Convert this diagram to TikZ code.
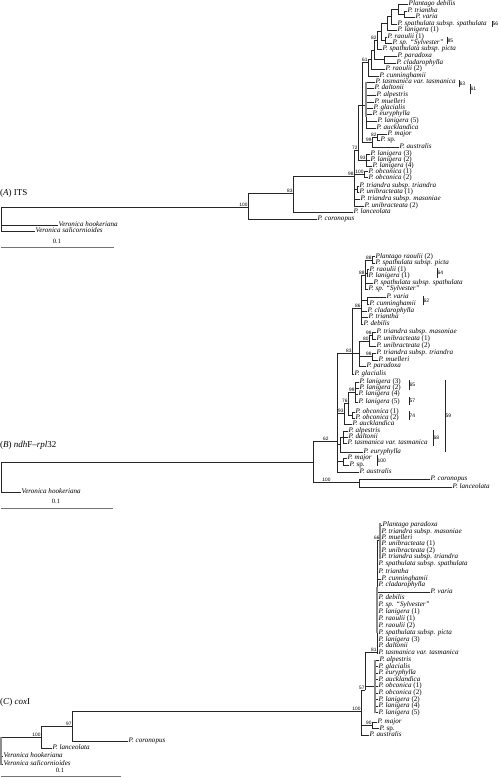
\documentclass[tikz,border=0pt]{standalone}
\usepackage{fontspec}
\setmainfont{Liberation Serif}
\setsansfont{Liberation Sans}

% leaf: name, parent x, y, tip x, text
\newcommand{\taxon}[5]{\node[tx] (#1) at (#4,#3) {#5};\draw[br] (#2,#3) -- (#1.west);}
% inner node: name, parent x, x, y, top, bottom
\newcommand{\clade}[6]{\coordinate (#1) at (#3,#4);\draw[br] (#2,#4) -- (#1);\draw[br] (#3,#5) -- (#3,#6);}
\newcommand{\boot}[3][]{\node[bs, anchor=south east, #1] (l#2) at (#2) {#3};}
\newcommand{\support}[5]{\draw[bar] (#2,#3) -- (#2,#4);\node[bs, anchor=west, font=\sffamily\fontsize{5}{5}\selectfont] (#1) at (#2,{(#3+#4)/2}) {#5};}

\begin{document}
\begin{tikzpicture}[
    x=1pt, y=-1pt,
    br/.style={draw=black!85, line width=0.7pt},
    comb/.style={draw=black!45, line width=1.8pt},
    bar/.style={draw=black!85, line width=0.9pt},
    scalebar/.style={draw=black!55, line width=0.9pt},
    tx/.style={anchor=west, inner sep=0.5pt, text height=4.6pt, text depth=1.1pt, font=\fontsize{7.1}{7.1}\selectfont\itshape},
    bs/.style={inner sep=0.3pt, font=\sffamily\fontsize{4.8}{4.8}\selectfont},
    panel/.style={anchor=west, inner sep=0pt, font=\fontsize{9}{9}\selectfont},
    sbl/.style={inner sep=0pt, font=\fontsize{6.5}{6.5}\selectfont}
]
\useasboundingbox (0,0) rectangle (500,778);

% (A) ITS
\node[panel] (labA) at (0,193) {(\textit{A}) ITS};
\draw[br] (1,207) -- (1,231);
\clade{a100}{1}{248}{207}{193}{219}
\clade{a83}{248}{293}{193}{176}{212}
\clade{a98}{293}{354}{176}{150}{206}
\clade{a72}{354}{358}{150}{105}{160}
\clade{aOb}{354}{364}{174.5}{171.5}{177.5}
\clade{aTT}{354}{357}{189}{186}{192}
\clade{aC}{358}{362}{105}{62}{142}
\clade{aLg}{358}{366}{160}{154}{166}
\clade{ak}{362}{368}{62}{59.5}{76}
\clade{aj}{368}{371}{59.5}{50}{69}
\clade{ai}{371}{374}{50}{40}{59.5}
\clade{ag}{374}{377}{40}{31.5}{49}
\clade{ae}{377}{381}{31.5}{23}{40}
\clade{ad}{381}{387}{23}{16.5}{30}
\clade{aa}{387}{391}{16.5}{9}{24}
\clade{ab}{391}{398}{9}{4}{14}
\clade{ac}{398}{404}{14}{11}{17}
\clade{af}{381}{385}{40}{37}{43}
\clade{ah}{374}{384}{59.5}{56}{63}
\clade{aComb}{362}{366}{105}{82}{128}
\clade{an}{362}{372}{142}{137}{147}
\clade{am}{372}{377}{137}{134}{140}
\taxon{aDeb}{398}{4}{408}{Plantago debilis}
\taxon{aTri}{404}{11}{407}{P. triantha}
\taxon{aVar}{404}{17}{415}{P. varia}
\taxon{aSpa}{391}{24}{397}{P. spathulata subsp. spathulata}
\taxon{aLa1}{387}{30}{397}{P. lanigera \textup{(1)}}
\taxon{aRa1}{385}{37}{387}{P. raoulii \textup{(1)}}
\taxon{aSyl}{385}{43}{392}{P. sp. ``Sylvester''}
\taxon{aPic}{377}{49}{382}{P. spathulata subsp. picta}
\taxon{aPar}{384}{56}{397}{P. paradoxa}
\taxon{aCla}{384}{63}{396}{P. cladarophylla}
\taxon{aRa2}{371}{69}{385}{P. raoulii \textup{(2)}}
\taxon{aCun}{368}{76}{379}{P. cunninghamii}
\taxon{aTas}{366}{82}{375}{P. tasmanica var. tasmanica}
\taxon{aDal}{366}{88}{374}{P. daltonii}
\taxon{aAlp}{366}{95}{376}{P. alpestris}
\taxon{aMue}{366}{102}{374}{P. muelleri}
\taxon{aGla}{366}{108}{373}{P. glacialis}
\taxon{aEur}{366}{114}{372}{P. euryphylla}
\taxon{aLa5}{366}{121}{377}{P. lanigera \textup{(5)}}
\taxon{aAuc}{366}{128}{376}{P. aucklandica}
\taxon{aMaj}{377}{134}{387}{P. major}
\taxon{aSp}{377}{140}{380}{P. \textup{sp.}}
\taxon{aAus}{372}{147}{399}{P. australis}
\taxon{aLa3}{366}{154}{370}{P. lanigera \textup{(3)}}
\taxon{aLa2}{366}{160}{370}{P. lanigera \textup{(2)}}
\taxon{aLa4}{366}{166}{372}{P. lanigera \textup{(4)}}
\taxon{aOb1}{364}{171.5}{368}{P. obconica \textup{(1)}}
\taxon{aOb2}{364}{177.5}{368}{P. obconica \textup{(2)}}
\taxon{aTrt}{357}{186}{359}{P. triandra subsp. triandra}
\taxon{aUn1}{357}{192}{359}{P. unibracteata \textup{(1)}}
\taxon{aMas}{354}{199}{360}{P. triandra subsp. masoniae}
\taxon{aUn2}{354}{206}{364}{P. unibracteata \textup{(2)}}
\taxon{aLan}{293}{212}{353}{P. lanceolata}
\taxon{aCor}{248}{219}{317}{P. coronopus}
\taxon{aHoo}{1}{225}{58}{Veronica hookeriana}
\taxon{aSal}{1}{231}{35}{Veronica salicornioides}
\draw[comb] (366,82) -- (366,117);
\boot{a100}{100} \boot{a83}{83} \boot{a98}{98} \boot{a72}{72}
\boot{aOb}{100} \boot{aLg}{93} \boot{ak}{61} \boot{ag}{82}
\boot{am}{82} \boot{an}{99}
\support{sA56}{492}{21}{27}{56}
\support{sA85}{447}{37}{44}{85}
\support{sA63}{459}{80}{87}{63}
\support{sA61}{470}{84}{94}{61}
\draw[scalebar] (1,247) -- (114,247);
\node[sbl] (sclA) at (57,241) {0.1};

% (B) ndhF-rpl32
\node[panel] (labB) at (0,445) {(\textit{B}) \textit{ndh}F--\textit{rpl}32};
\draw[br] (1,462) -- (1,492);
\clade{bR}{1}{313}{462}{441}{482}
\clade{b62}{313}{337}{441}{353}{472}
\clade{b100}{313}{359}{482}{479}{487}
\clade{b83}{337}{352}{353}{308}{374}
\clade{bg2}{352}{361}{308}{275}{324}
\clade{bg1}{361}{365}{275}{260}{289}
\clade{bn1}{365}{372}{260}{256.5}{263}
\clade{bn2}{365}{367}{273}{269.5}{276}
\clade{bn4}{361}{367}{300.5}{297}{304}
\clade{bn8}{352}{359}{353}{341}{366}
\clade{bn6}{359}{369}{341}{335.5}{346}
\clade{bn5}{369}{372}{335.5}{332}{339}
\clade{bn7}{359}{372}{356.5}{353}{360}
\clade{bn12}{337}{344}{413}{403}{424}
\clade{bn11}{344}{348}{403}{392}{415}
\clade{bn9}{348}{355}{392}{382}{402}
\clade{bn10}{348}{352}{415}{412}{418}
\clade{bn14}{337}{340}{444}{437}{452}
\clade{bn13}{340}{343}{437}{431}{443}
\clade{bn15}{337}{343}{461.5}{458}{465}
\taxon{bRa2}{372}{256.5}{375}{Plantago raoulii \textup{(2)}}
\taxon{bPic}{372}{263}{375}{P. spathulata subsp. picta}
\taxon{bRa1}{367}{269.5}{369}{P. raoulii \textup{(1)}}
\taxon{bLa1}{367}{276}{368}{P. lanigera \textup{(1)}}
\taxon{bSpa}{365}{283}{373}{P. spathulata subsp. spathulata}
\taxon{bSyl}{365}{289}{368}{P. sp. ``Sylvester''}
\taxon{bVar}{367}{297}{386}{P. varia}
\taxon{bCun}{367}{304}{369}{P. cunninghamii}
\taxon{bCla}{361}{311}{367}{P. cladarophylla}
\taxon{bTri}{361}{317}{368}{P. triantha}
\taxon{bDeb}{361}{324}{363}{P. debilis}
\taxon{bMas}{372}{332}{376}{P. triandra subsp. masoniae}
\taxon{bUn1}{372}{339}{376}{P. unibracteata \textup{(1)}}
\taxon{bUn2}{369}{346}{376}{P. unibracteata \textup{(2)}}
\taxon{bTrt}{372}{353}{376}{P. triandra subsp. triandra}
\taxon{bMue}{372}{360}{378}{P. muelleri}
\taxon{bPar}{359}{366}{366}{P. paradoxa}
\taxon{bGla}{352}{374}{354}{P. glacialis}
\taxon{bLa3}{355}{382}{359}{P. lanigera \textup{(3)}}
\taxon{bLa2}{355}{388}{359}{P. lanigera \textup{(2)}}
\taxon{bLa4}{355}{394}{358}{P. lanigera \textup{(4)}}
\taxon{bLa5}{355}{402}{358}{P. lanigera \textup{(5)}}
\taxon{bOb1}{352}{412}{355}{P. obconica \textup{(1)}}
\taxon{bOb2}{352}{418}{355}{P. obconica \textup{(2)}}
\taxon{bAuc}{344}{424}{352}{P. aucklandica}
\taxon{bAlp}{343}{431}{348}{P. alpestris}
\taxon{bDal}{343}{437}{348}{P. daltonii}
\taxon{bTas}{343}{443}{347}{P. tasmanica var. tasmanica}
\taxon{bEur}{340}{452}{363}{P. euryphylla}
\taxon{bMaj}{343}{458}{347}{P. major}
\taxon{bSp}{343}{465}{349}{P. \textup{sp.}}
\taxon{bAus}{337}{472}{359}{P. australis}
\taxon{bCor}{359}{479}{430}{P. coronopus}
\taxon{bLan}{359}{487}{452}{P. lanceolata}
\taxon{bHoo}{1}{492}{21}{Veronica hookeriana}
\boot{bn1}{88} \boot{bg1}{88} \boot{bg2}{86} \boot{bn5}{98}
\boot{bn6}{80} \boot{bn7}{98} \boot{b83}{83} \boot{bn9}{99}
\boot{bn11}{76} \boot{bn12}{93}
\boot[xshift=-8pt]{b62}{62} \boot[xshift=-28pt]{b100}{100}
\support{sB64}{437}{268}{278}{64}
\support{sB62}{423}{296}{305}{62}
\support{sB65}{409}{380}{390}{65}
\support{sB57}{409}{397}{405}{57}
\support{sB74}{409}{411}{420}{74}
\support{sB59}{445}{380}{452}{59}
\support{sB68}{433}{430}{446}{68}
\support{sB100}{377}{455}{466}{100}
\draw[scalebar] (1,508) -- (113,508);
\node[sbl] (sclB) at (56,501) {0.1};

% (C) coxI
\node[panel] (labC) at (0,702) {(\textit{C}) \textit{cox}I};
\clade{c100}{1}{41}{737}{726}{748}
\clade{c97}{41}{72}{726}{711}{741}
\clade{cB}{72}{361}{711}{690}{735}
\clade{c57}{361}{365}{690}{652}{690}
\clade{cP}{365}{375}{686}{660}{712.5}
\clade{c81}{365}{377}{652}{540}{653}
\clade{c66}{377}{380}{540}{525}{557}
\clade{c90}{361}{372}{725}{722}{728.5}
\taxon{cPar}{380}{525}{382}{Plantago paradoxa}
\taxon{cMas}{380}{532}{381}{P. triandra subsp. masoniae}
\taxon{cMue}{380}{538}{381}{P. muelleri}
\taxon{cUn1}{380}{544}{381}{P. unibracteata \textup{(1)}}
\taxon{cUn2}{380}{551}{381}{P. unibracteata \textup{(2)}}
\taxon{cTrt}{380}{557}{381}{P. triandra subsp. triandra}
\taxon{cSpa}{377}{564}{378}{P. spathulata subsp. spathulata}
\taxon{cTri}{377}{572}{378}{P. triantha}
\taxon{cCun}{377}{579}{381}{P. cunninghamii}
\taxon{cCla}{377}{585}{378}{P. cladarophylla}
\taxon{cVar}{377}{592}{430}{P. varia}
\taxon{cDeb}{377}{598}{378}{P. debilis}
\taxon{cSyl}{377}{604.5}{378}{P. sp. ``Sylvester''}
\taxon{cLa1}{377}{612}{378}{P. lanigera \textup{(1)}}
\taxon{cRa1}{377}{619}{378}{P. raoulii \textup{(1)}}
\taxon{cRa2}{377}{626}{378}{P. raoulii \textup{(2)}}
\taxon{cPic}{377}{633}{378}{P. spathulata subsp. picta}
\taxon{cLa3}{377}{639.5}{378}{P. lanigera \textup{(3)}}
\taxon{cDal}{377}{646}{378}{P. daltonii}
\taxon{cTas}{377}{653}{378}{P. tasmanica var. tasmanica}
\taxon{cAlp}{375}{660}{379}{P. alpestris}
\taxon{cGla}{375}{666.5}{378}{P. glacialis}
\taxon{cEur}{375}{673}{378}{P. euryphylla}
\taxon{cAuc}{375}{679.5}{378}{P. aucklandica}
\taxon{cOb1}{375}{686}{378}{P. obconica \textup{(1)}}
\taxon{cOb2}{375}{693}{378}{P. obconica \textup{(2)}}
\taxon{cLa2}{375}{699.5}{378}{P. lanigera \textup{(2)}}
\taxon{cLa4}{375}{706}{378}{P. lanigera \textup{(4)}}
\taxon{cLa5}{375}{712.5}{378}{P. lanigera \textup{(5)}}
\taxon{cMaj}{372}{722}{377}{P. major}
\taxon{cSp}{372}{728.5}{379}{P. \textup{sp.}}
\taxon{cAus}{361}{735}{369}{P. australis}
\taxon{cCor}{72}{741}{128}{P. coronopus}
\taxon{cLan}{41}{748}{52}{P. lanceolata}
\taxon{cHoo}{1}{756}{3}{Veronica hookeriana}
\taxon{cSal}{1}{764}{3}{Veronica salicornioides}
\draw[comb] (1,737) -- (1,765);
\draw[comb] (380,523) -- (380,559);
\draw[comb] (377,587) -- (377,633);
\draw[comb] (375,660) -- (375,712.5);
\boot{c100}{100} \boot{c97}{97} \boot{cB}{100} \boot{c57}{57}
\boot{c81}{81} \boot{c66}{66} \boot{c90}{90}
\draw[scalebar] (1,776) -- (121,776);
\node[sbl] (sclC) at (60,770) {0.1};
\end{tikzpicture}
\end{document}
